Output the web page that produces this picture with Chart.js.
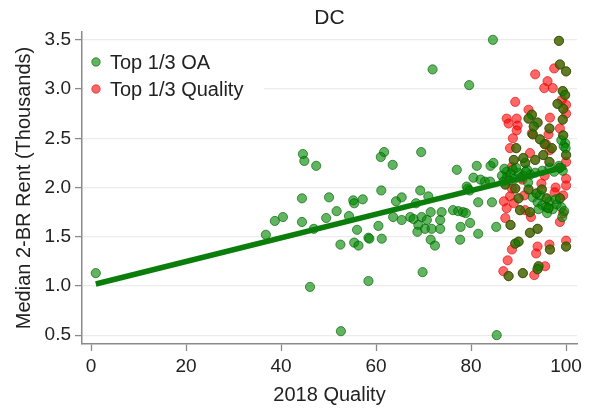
<!DOCTYPE html>
<html>
<head>
<meta charset="utf-8">
<script src="https://cdn.jsdelivr.net/npm/chart.js@4.4.1/dist/chart.umd.min.js"></script>
<style>
html,body{margin:0;padding:0;background:#fff;}
#wrap{width:596px;height:410px;}
</style>
</head>
<body>
<div id="wrap"><canvas id="c" width="596" height="410"></canvas></div>
<script>
const chartTitle = "DC";
const xTitle = "2018 Quality";
const yTitle = "Median 2-BR Rent (Thousands)";
const seriesNames = ["Top 1/3 OA", "Top 1/3 Quality"];
const xTicks = [0, 20, 40, 60, 80, 100];
const yTicks = [0.5, 1.0, 1.5, 2.0, 2.5, 3.0, 3.5];

// Top 1/3 OA (green)
const oaQuality = [1,36.8,38.7,40.4,44.4,44.6,44.9,47.4,44.4,50.1,55.2,55.4,57.2,49.5,51.7,54.3,46.9,56.0,52.5,55.4,56.3,58.4,
 61.7,61.0,63.5,69.5,77.0,61.1,64.2,65.4,69.3,71.0,68.4,71.5,73.8,76.2,77.3,78.3,79.3,63.6,65.4,67.2,67.9,69.6,70.7,73.5,
 68.9,70.3,71.7,73.5,68.7,60.5,58.6,61.2,77.8,77.7,71.5,72.4,79.8,81.5,85.3,46.1,58.4,69.8,52.6,85.4,84.6,71.9,79.6,81.2,
 84.1,84.7,78.9,81.5,84.4,79.1,79.7,82.9,84.0,99.8,99.5,87.5,86.5,87.5,88.3,89.2,90.0,91.0,91.8,92.5,88.8,93.5,95.0,96.5,
 97.5,98.5,99.3,93.0,94.0,95.0,95.8,96.5,97.2,98.0,99.0,99.6,94.5,80.5,82.0,
 87.0,88.0,89.5,90.5,91.5,86.8,99.0,99.9,92.0,94.2,96.0,97.8,99.2,
 98.5,98.7,100,99.3,99.8,99.4,92.8,92.1,94.0,99.3,96.5,89.5,93.0,94.5,99.4,95.2,96.5,100,91.4,93.5,98.7,87.2,89.3,92.1,
 93.8,94.9,95.9,98.7,90.0,90.3,92.4,96.3,88.3,92.4,94.0,89.3,90.0,96.6,100,94.2,94.0,87.9,90.9,
 97.0,95.5,91.0,89.0,98.2,93.2];
const oaRent = [1.13,1.52,1.66,1.70,1.65,2.34,2.27,2.22,1.89,1.90,1.87,1.84,1.88,1.69,1.76,1.71,1.58,1.57,1.42,1.44,1.41,1.49,
 2.36,2.31,2.23,2.36,2.18,1.97,1.86,1.90,1.97,1.91,1.84,1.75,1.75,1.77,1.76,1.75,1.99,1.70,1.67,1.70,1.68,1.70,1.67,1.67,
 1.62,1.58,1.58,1.58,1.55,1.61,1.48,1.48,1.60,1.47,1.47,1.41,1.64,1.53,1.60,0.99,1.05,1.14,0.54,0.50,3.50,3.20,3.04,2.22,
 2.22,2.25,1.74,1.85,1.85,2.01,1.97,2.06,2.06,2.45,2.42,2.16,2.12,2.10,2.14,2.09,2.15,2.12,2.18,2.13,2.18,2.15,2.17,2.20,
 2.16,2.22,2.17,1.90,1.85,1.82,1.80,1.86,1.78,1.83,1.80,1.76,1.92,2.10,2.08,
 2.19,2.07,2.20,2.10,2.16,2.06,2.48,2.40,2.05,1.78,1.74,1.88,1.70,
 3.49,3.25,3.18,2.98,2.94,2.80,2.74,2.70,2.66,2.69,2.60,2.40,2.54,2.49,2.53,2.33,2.26,2.33,2.25,2.28,2.20,2.03,1.99,1.98,
 1.94,1.98,1.89,1.89,1.89,1.77,1.75,1.79,1.62,1.54,1.58,1.43,1.45,1.37,1.40,1.20,1.17,1.10,1.13,
 2.40,2.44,2.30,2.28,2.85,2.62];

// Top 1/3 Quality (red)
const qualQuality = [93.5,97.5,96.1,95.4,97.2,99.1,89.3,92.1,100,87.5,89.6,87.9,89.8,89.6,96.6,100,98.7,92.8,88.8,96.3,88.2,
 92.4,96.6,100,88.6,100,99.4,88.6,88.2,87.5,91.4,99.4,88.6,94.0,93.7,96.5,100,87.7,95.6,86.8,93.3,87.2,98.7,90.8,95.5,97.8,
 89.0,91.2,94.8,97.6,100,86.9,92.6,95.8,
 98.5,98.7,100,99.3,99.8,99.4,92.8,92.1,94.0,99.3,96.5,89.5,93.0,94.5,99.4,95.2,96.5,100,91.4,93.5,98.7,87.2,89.3,92.1,
 93.8,94.9,95.9,98.7,90.0,90.3,92.4,96.3,88.3,92.4,94.0,89.3,90.0,96.6,100,94.2,94.0,87.9,90.9,
 97.0,95.5,91.0,89.0,98.2,93.2];
const qualRent = [3.15,3.21,3.08,3.01,3.01,2.89,2.87,2.79,2.84,2.70,2.70,2.65,2.63,2.58,2.71,2.75,2.60,2.55,2.50,2.54,2.40,
 2.35,2.38,2.26,2.21,2.09,1.92,1.99,1.91,1.79,1.77,1.74,1.37,1.40,1.33,1.42,1.46,1.26,1.20,1.15,1.11,1.69,1.65,2.08,2.12,2.00,
 1.84,1.92,2.04,1.95,2.02,1.86,1.70,2.44,
 3.49,3.25,3.18,2.98,2.94,2.80,2.74,2.70,2.66,2.69,2.60,2.40,2.54,2.49,2.53,2.33,2.26,2.33,2.25,2.28,2.20,2.03,1.99,1.98,
 1.94,1.98,1.89,1.89,1.89,1.77,1.75,1.79,1.62,1.54,1.58,1.43,1.45,1.37,1.40,1.20,1.17,1.10,1.13,
 2.40,2.44,2.30,2.28,2.85,2.62];

// Fitted line endpoints
const fitQuality = [1, 100];
const fitRent = [1.02, 2.21];

const toPts = (xs, ys) => xs.map((x, i) => ({x: x, y: ys[i]}));
const FONT = "'Liberation Sans', Arial, sans-serif";
const GREEN_FILL = 'rgba(0,135,0,0.62)';
const GREEN_EDGE = 'rgba(0,95,0,0.65)';
const RED_FILL = 'rgba(255,0,0,0.6)';
const RED_EDGE = 'rgba(215,0,0,0.6)';
const R = 4.6;

const overlay = {
  id: 'overlay',
  beforeDatasetsDraw(chart) {
    const ctx = chart.ctx;
    ctx.save();
    ctx.fillStyle = '#ffffff';
    ctx.fillRect(84, 46, 180, 57);
    const items = [
      {label: seriesNames[0], fill: GREEN_FILL, edge: GREEN_EDGE, y: 62},
      {label: seriesNames[1], fill: RED_FILL, edge: RED_EDGE, y: 89}
    ];
    ctx.font = "20px " + FONT;
    ctx.textBaseline = 'middle';
    ctx.textAlign = 'left';
    items.forEach(it => {
      ctx.beginPath();
      ctx.arc(96, it.y, 4.2, 0, Math.PI * 2);
      ctx.fillStyle = it.fill;
      ctx.fill();
      ctx.lineWidth = 1;
      ctx.strokeStyle = it.edge;
      ctx.stroke();
      ctx.fillStyle = '#222';
      ctx.fillText(it.label, 110, it.y + 1);
    });
    ctx.restore();
  },
  afterDraw(chart) {
    const ctx = chart.ctx;
    ctx.save();
    ctx.font = "21px " + FONT;
    ctx.fillStyle = '#222';
    ctx.textAlign = 'center';
    ctx.textBaseline = 'middle';
    ctx.fillText(chartTitle, (chart.chartArea.left + chart.chartArea.right) / 2, 18);
    ctx.restore();
  }
};

new Chart(document.getElementById('c'), {
  type: 'scatter',
  data: {
    datasets: [
      {
        type: 'line', label: 'Fit', data: toPts(fitQuality, fitRent),
        borderColor: '#0a7d0a', borderWidth: 5.5, pointRadius: 0, fill: false, tension: 0,
        borderCapStyle: 'butt'
      },
      {
        label: seriesNames[0], data: toPts(oaQuality, oaRent),
        backgroundColor: GREEN_FILL, borderColor: GREEN_EDGE, borderWidth: 1, pointRadius: R
      },
      {
        label: seriesNames[1], data: toPts(qualQuality, qualRent),
        backgroundColor: RED_FILL, borderColor: RED_EDGE, borderWidth: 1, pointRadius: R
      }
    ]
  },
  options: {
    responsive: false,
    devicePixelRatio: 1,
    animation: false,
    layout: {padding: {top: 32, right: 19, bottom: 0, left: 0}},
    plugins: {legend: {display: false}, title: {display: false}, tooltip: {enabled: false}},
    scales: {
      x: {
        type: 'linear', min: -1.9, max: 102.3,
        afterFit: s => { s.height = 66; },
        afterBuildTicks: s => { s.ticks = xTicks.map(v => ({value: v})); },
        grid: {drawOnChartArea: false, drawTicks: true, tickLength: 7, tickColor: '#8a8a8a', tickWidth: 1.3},
        border: {color: '#8a8a8a', width: 1.5},
        ticks: {font: {family: FONT, size: 19}, color: '#222', padding: 4, maxRotation: 0,
          callback: v => String(v)},
        title: {display: true, text: xTitle, font: {family: FONT, size: 20}, color: '#222', padding: {top: 0, bottom: 3}}
      },
      y: {
        type: 'linear', min: 0.41, max: 3.58,
        afterFit: s => { s.width = 82; },
        afterBuildTicks: s => { s.ticks = yTicks.map(v => ({value: v})); },
        grid: {color: '#ececec', lineWidth: 1.2, drawTicks: true, tickLength: 7, tickColor: '#8a8a8a', tickWidth: 1.3},
        border: {color: '#8a8a8a', width: 1.5},
        ticks: {font: {family: FONT, size: 19}, color: '#222', padding: 4,
          callback: v => Number(v).toFixed(1)},
        title: {display: true, text: yTitle, font: {family: FONT, size: 20}, color: '#222', padding: {top: 12, bottom: 0}}
      }
    }
  },
  plugins: [overlay]
});
</script>
</body>
</html>
